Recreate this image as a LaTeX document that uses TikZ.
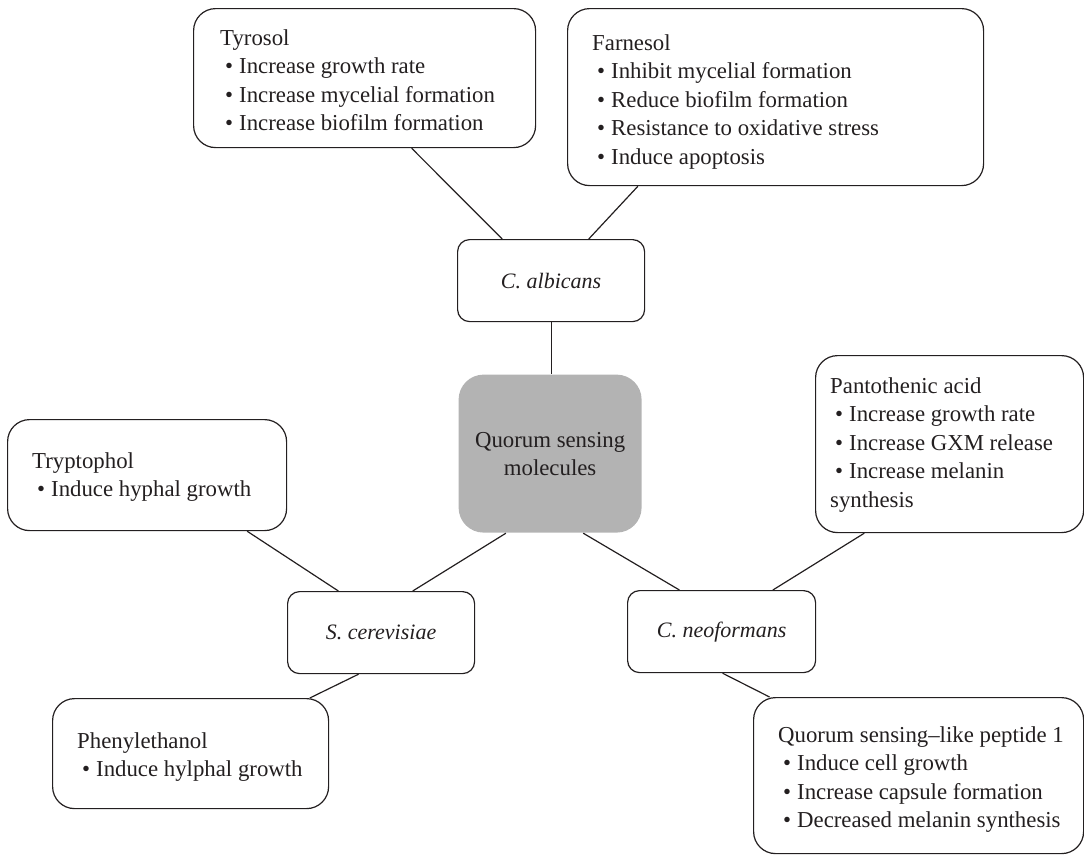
\documentclass[tikz,border=0pt]{standalone}
\usepackage{fontspec}
\setmainfont{Liberation Serif}
\usetikzlibrary{calc}
\definecolor{ink}{HTML}{231F20}
\definecolor{qsgray}{HTML}{B3B3B3}
\newcommand\bitem[1]{\hspace*{5pt}\textbullet\hspace{6pt}#1}
\newcommand\boxtext[1]{\begin{tabular}[t]{@{}l@{}}#1\end{tabular}}
\begin{document}
\begin{tikzpicture}[x=1pt,y=-1pt,
  box/.style={draw=ink, line width=1.2pt, rounded corners=22pt, inner sep=0pt, anchor=north west},
  smallbox/.style={box, rounded corners=12pt, font=\fontsize{22}{26}\selectfont\itshape, text=ink},
  txt/.style={inner sep=0pt, anchor=base west, text=ink, font=\fontsize{22.8}{28.5}\selectfont},
  link/.style={draw=ink, line width=1.2pt}]
\useasboundingbox (0,0) rectangle (1084,855);

% boxes
\node[box, minimum width=342pt, minimum height=139pt] (tyr) at (193,8) {};
\node[box, minimum width=416pt, minimum height=177pt] (far) at (567,8) {};
\node[smallbox, minimum width=187pt, minimum height=82pt] (calb) at (457,239) {C. albicans};
\node[box, draw=none, fill=qsgray, rounded corners=25pt, minimum width=183pt, minimum height=158pt,
      align=center, text=ink, font=\fontsize{22.8}{28}\selectfont] (qs) at (458,374) {Quorum sensing\\molecules};
\node[box, minimum width=268pt, minimum height=177pt] (pan) at (815,355) {};
\node[box, minimum width=279pt, minimum height=111pt] (try) at (7,419) {};
\node[smallbox, minimum width=187pt, minimum height=82pt] (scer) at (287,591) {S. cerevisiae};
\node[smallbox, minimum width=188pt, minimum height=82pt] (cneo) at (627,590) {C. neoformans};
\node[box, minimum width=276pt, minimum height=110pt] (phen) at (52,698) {};
\node[box, minimum width=330pt, minimum height=156pt] (qsl) at (753,697) {};

% texts
\node[txt] (tyrt) at (220,45) {\boxtext{Tyrosol\\ \bitem{Increase growth rate}\\ \bitem{Increase mycelial formation}\\ \bitem{Increase biofilm formation}}};
\node[txt] (fart) at (592,50) {\boxtext{Farnesol\\ \bitem{Inhibit mycelial formation}\\ \bitem{Reduce biofilm formation}\\ \bitem{Resistance to oxidative stress}\\ \bitem{Induce apoptosis}}};
\node[txt] (pant) at (830,393) {\boxtext{Pantothenic acid\\ \bitem{Increase growth rate}\\ \bitem{Increase GXM release}\\ \bitem{Increase melanin}\\ synthesis}};
\node[txt] (tryt) at (32,468) {\boxtext{Tryptophol\\ \bitem{Induce hyphal growth}}};
\node[txt] (phent) at (77,748) {\boxtext{Phenylethanol\\ \bitem{Induce hylphal growth}}};
\node[txt] (qslt) at (778,742) {\boxtext{Quorum sensing--like peptide 1\\ \bitem{Induce cell growth}\\ \bitem{Increase capsule formation}\\ \bitem{Decreased melanin synthesis}}};

% connectors
\draw[link] ($(tyr.south west)!0.637!(tyr.south east)$) -- ($(calb.north west)!0.24!(calb.north east)$);
\draw[link] ($(far.south west)!0.17!(far.south east)$) -- ($(calb.north west)!0.70!(calb.north east)$);
\draw[link] (calb.south) -- (calb.south |- qs.north);
\draw[link] ($(try.south west)!0.857!(try.south east)$) -- ($(scer.north west)!0.273!(scer.north east)$);
\draw[link] ($(qs.south west)!0.26!(qs.south east)$) -- ($(scer.north west)!0.668!(scer.north east)$);
\draw[link] ($(qs.south west)!0.68!(qs.south east)$) -- ($(cneo.north west)!0.277!(cneo.north east)$);
\draw[link] ($(pan.south west)!0.183!(pan.south east)$) -- ($(cneo.north west)!0.771!(cneo.north east)$);
\draw[link] ($(scer.south west)!0.38!(scer.south east)$) -- ($(phen.north west)!0.93!(phen.north east)$);
\draw[link] ($(cneo.south west)!0.505!(cneo.south east)$) -- ($(qsl.north west)!0.05!(qsl.north east)$);
\end{tikzpicture}
\end{document}
